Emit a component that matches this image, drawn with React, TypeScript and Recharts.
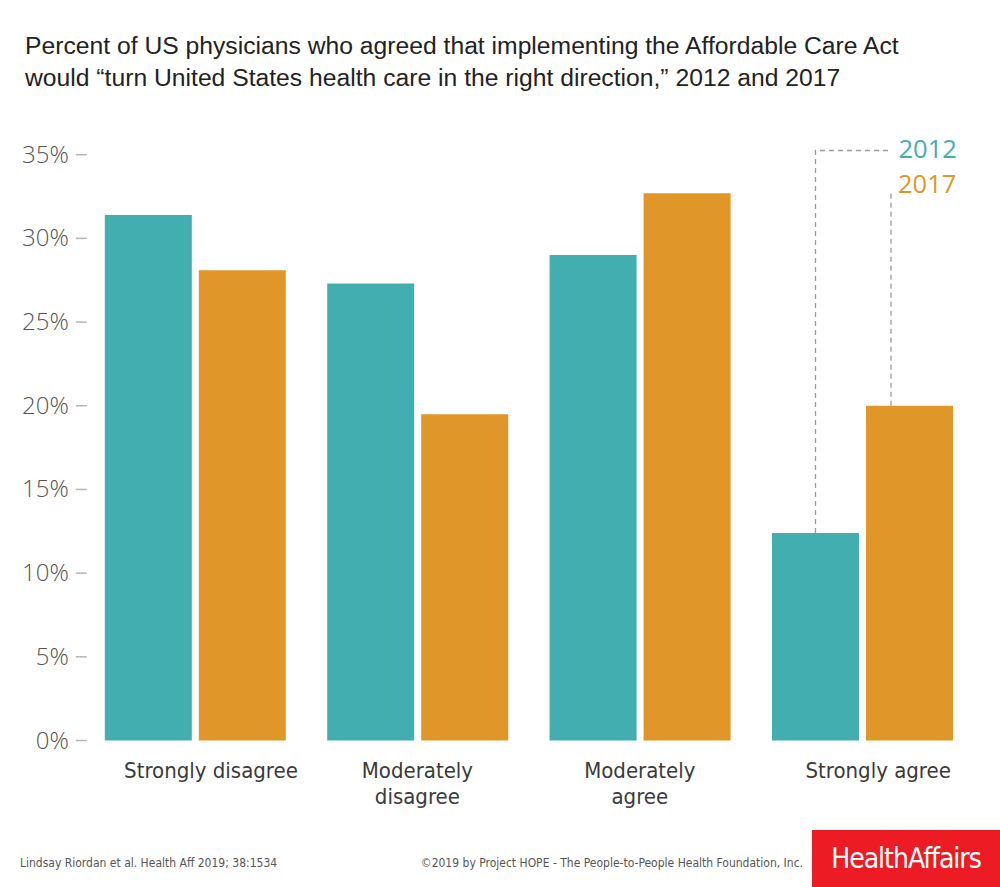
import { BarChart, Bar, XAxis, YAxis } from 'recharts';

const categories = ['Strongly disagree', 'Moderately\ndisagree', 'Moderately\nagree', 'Strongly agree'];
const values2012 = [31.4, 27.3, 29.0, 12.4];
const values2017 = [28.1, 19.5, 32.7, 20.0];
const yTicks = [0, 5, 10, 15, 20, 25, 30, 35];

const COLORS = {
  y2012: '#43AEAF',
  y2017: '#E09628',
  text: '#555555',
  dash: '#9a9a9a',
};

const CONDENSED = "'Liberation Sans Narrow', 'DejaVu Sans Condensed', sans-serif";

const data = categories.map((c, i) => ({
  category: c,
  v2012: values2012[i],
  v2017: values2017[i],
}));

const YTick = ({ x, y, payload }: any) => (
  <g>
    <line x1={x - 8} x2={x + 3} y1={y} y2={y} stroke="#b5b5b5" strokeWidth={1.5} />
    <text
      x={x - 15}
      y={y}
      dy={8}
      textAnchor="end"
      fill={COLORS.text}
      fontSize={24}
      fontWeight={300}
      fontFamily="'Open Sans', sans-serif"
    >
      {payload.value}%
    </text>
  </g>
);

const XTick = ({ x, y, payload }: any) => {
  const lines = String(payload.value).split('\n');
  const dx = lines.length === 1 ? 16 : 0;
  return (
    <text x={x + dx} y={y} textAnchor="middle" fill="#3a3a3a" fontSize={22} fontFamily={CONDENSED}>
      {lines.map((l, i) => (
        <tspan key={i} x={x + dx} dy={i === 0 ? 37 : 26}>
          {l}
        </tspan>
      ))}
    </text>
  );
};

// dashed leader lines from the last pair of bars to the year labels
const Leader2012 = ({ x, y, width, index }: any) => {
  if (index !== categories.length - 1) return null;
  const cx = x + width / 2;
  return (
    <g>
      <polyline
        points={`${cx},${y} ${cx},150.5 ${cx + 74},150.5`}
        fill="none"
        stroke={COLORS.dash}
        strokeWidth={1.3}
        strokeDasharray="5 4"
      />
      <text x={cx + 83} y={158} fill={COLORS.y2012} fontSize={25.5} fontFamily="'Open Sans', sans-serif">
        2012
      </text>
    </g>
  );
};

const Leader2017 = ({ x, y, index }: any) => {
  if (index !== categories.length - 1) return null;
  const lx = x + 25;
  return (
    <g>
      <line x1={lx} x2={lx} y1={y} y2={191} stroke={COLORS.dash} strokeWidth={1.3} strokeDasharray="5 4" />
      <text x={lx + 7} y={193} fill={COLORS.y2017} fontSize={25.5} fontFamily="'Open Sans', sans-serif">
        2017
      </text>
    </g>
  );
};

export default function App() {
  return (
    <div style={{ position: 'absolute', left: 0, top: 0, width: 1000, height: 887, background: '#fff', overflow: 'hidden' }}>
      <div
        style={{
          position: 'absolute',
          left: 25,
          top: 30,
          fontFamily: "'Liberation Sans', Arial, sans-serif",
          fontSize: 24.7,
          lineHeight: '32px',
          color: '#222',
          whiteSpace: 'nowrap',
        }}
      >
        Percent of US physicians who agreed that implementing the Affordable Care Act
        <br />
        would “turn United States health care in the right direction,” 2012 and 2017
      </div>

      <div style={{ position: 'absolute', left: 0, top: 0 }}>
        <BarChart
          width={1000}
          height={887}
          data={data}
          margin={{ top: 154.7, right: 26.6, bottom: 86.5, left: 23.8 }}
          barCategoryGap={21}
          barGap={7}
        >
          <XAxis
            dataKey="category"
            axisLine={false}
            tickLine={false}
            tickSize={0}
            tickMargin={0}
            height={60}
            interval={0}
            tick={<XTick />}
          />
          <YAxis
            domain={[0, 35]}
            ticks={yTicks}
            axisLine={false}
            tickLine={false}
            tickSize={0}
            tickMargin={0}
            width={60}
            interval={0}
            tick={<YTick />}
          />
          <Bar dataKey="v2012" fill={COLORS.y2012} isAnimationActive={false} label={<Leader2012 />} />
          <Bar dataKey="v2017" fill={COLORS.y2017} isAnimationActive={false} label={<Leader2017 />} />
        </BarChart>
      </div>

      <div style={{ position: 'absolute', left: 20, top: 856, fontFamily: CONDENSED, fontSize: 12, color: '#555' }}>
        Lindsay Riordan et al. Health Aff 2019; 38:1534
      </div>
      <div style={{ position: 'absolute', right: 197, top: 856, fontFamily: CONDENSED, fontSize: 12, color: '#555' }}>
        ©2019 by Project HOPE - The People-to-People Health Foundation, Inc.
      </div>
      <div
        style={{
          position: 'absolute',
          left: 812,
          top: 830,
          width: 188,
          height: 57,
          background: '#ED1C24',
          color: '#fff',
          fontFamily: CONDENSED,
          fontSize: 28,
          lineHeight: '57px',
          textAlign: 'center',
          letterSpacing: -1,
        }}
      >
        HealthAffairs
      </div>
    </div>
  );
}
